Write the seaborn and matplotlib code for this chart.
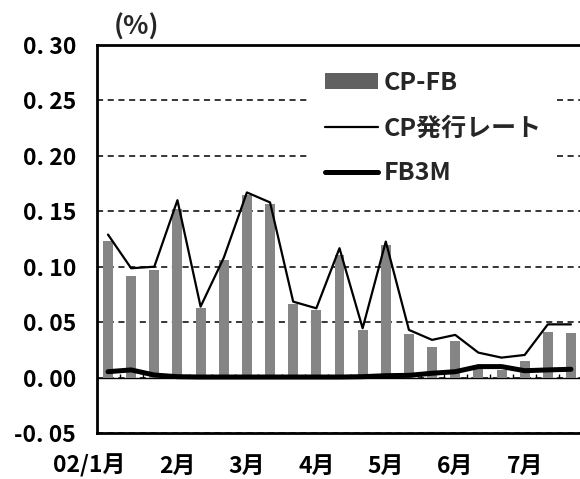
import numpy as np
import pandas as pd
import matplotlib
matplotlib.use("Agg")
import matplotlib.pyplot as plt
import seaborn as sns
from matplotlib.patches import Patch
from matplotlib.lines import Line2D
from matplotlib.transforms import ScaledTranslation

# Ten-day observations, Jan-Jul 2002 (%)
month_labels = ["02/1月", "2月", "3月", "4月", "5月", "6月", "7月"]
cp_fb = [0.123, 0.092, 0.097, 0.152, 0.0625, 0.106, 0.165, 0.157, 0.066,
         0.061, 0.111, 0.043, 0.120, 0.039, 0.028, 0.033, 0.011, 0.007,
         0.015, 0.041, 0.040]
cp_rate = [0.129, 0.0986, 0.100, 0.160, 0.064, 0.108, 0.167, 0.158, 0.0685,
           0.0625, 0.1167, 0.0445, 0.1227, 0.043, 0.034, 0.0385, 0.0225,
           0.018, 0.0204, 0.048, 0.048]
fb3m = [0.0053, 0.0069, 0.0023, 0.0008, 0.0005, 0.0005, 0.0005, 0.0005,
        0.0005, 0.0005, 0.0005, 0.0008, 0.0017, 0.0020, 0.0039, 0.0053,
        0.0099, 0.0099, 0.0062, 0.0069, 0.0075]
y_ticks = [-0.05, 0.00, 0.05, 0.10, 0.15, 0.20, 0.25, 0.30]
y_tick_labels = ["-0. 05", "0. 00", "0. 05", "0. 10", "0. 15", "0. 20",
                 "0. 25", "0. 30"]
legend_labels = ["CP-FB", "CP発行レート", "FB3M"]

sns.set_theme(style="white")
plt.rcParams["font.family"] = ["Noto Sans CJK JP", "DejaVu Sans"]
plt.rcParams["font.weight"] = "bold"

periods = np.arange(len(cp_fb))
df = pd.DataFrame({"period": periods, "cp_fb": cp_fb,
                   "cp_rate": cp_rate, "fb3m": fb3m})

bar_color = "#858585"

fig = plt.figure(figsize=(5.8, 4.79), dpi=100)
ax = fig.add_axes([97 / 580, 46 / 479, 1 - 97 / 580, 388 / 479])

sns.barplot(data=df, x="period", y="cp_fb", native_scale=True, width=0.43,
            color=bar_color, saturation=1, linewidth=0, ax=ax, zorder=2)
sns.lineplot(data=df, x="period", y="cp_rate", color="black", lw=1.6,
             legend=False, ax=ax, zorder=3)
sns.lineplot(data=df, x="period", y="fb3m", color="black", lw=3.6,
             legend=False, ax=ax, zorder=4)

ax.set_xlim(-0.475, 20.39)
ax.set_ylim(-0.05, 0.30)
ax.set_xlabel("")
ax.set_ylabel("")

ax.set_yticks(y_ticks, y_tick_labels)
ax.set_xticks(periods[::3], month_labels)
ax.tick_params(axis="both", length=0, labelsize=16.5, colors="black")
ax.tick_params(axis="y", pad=15)
ax.tick_params(axis="x", pad=15.5)
first = ax.get_xticklabels()[0]
first.set_transform(first.get_transform()
                    + ScaledTranslation(-0.19, 0, fig.dpi_scale_trans))

# dashed gridlines, solid zero line with category ticks
ax.yaxis.grid(True, linestyle=(0, (4, 3)), color="black", lw=1.1)
ax.set_axisbelow(True)
ax.axhline(0, color="black", lw=1.0, zorder=1.5)
ax.vlines(periods[:-1] + 0.5, 0, 0.003, color="black", lw=1.0, zorder=1.5)

for side in ("left", "top", "bottom"):
    ax.spines[side].set_visible(True)
    ax.spines[side].set_color("black")
    ax.spines[side].set_linewidth(2.0)
ax.spines["right"].set_visible(False)

handles = [Patch(facecolor="#606060", edgecolor="none"),
           Line2D([], [], color="black", lw=1.6),
           Line2D([], [], color="black", lw=3.6)]
ax.legend(handles, legend_labels, loc="upper left",
          bbox_to_anchor=(310 / 580, 1 - 56 / 479),
          bbox_transform=fig.transFigure, frameon=True, fancybox=False,
          edgecolor="none", facecolor="white", framealpha=1, fontsize=18,
          handlelength=2.1, handleheight=0.6, handletextpad=0.25,
          labelspacing=0.85, borderpad=0.6, borderaxespad=0)

fig.text(137 / 580, 1 - 27 / 479, "(%)", ha="center", va="center",
         fontsize=19, fontweight="bold")

fig.savefig("out.png", dpi=100)
